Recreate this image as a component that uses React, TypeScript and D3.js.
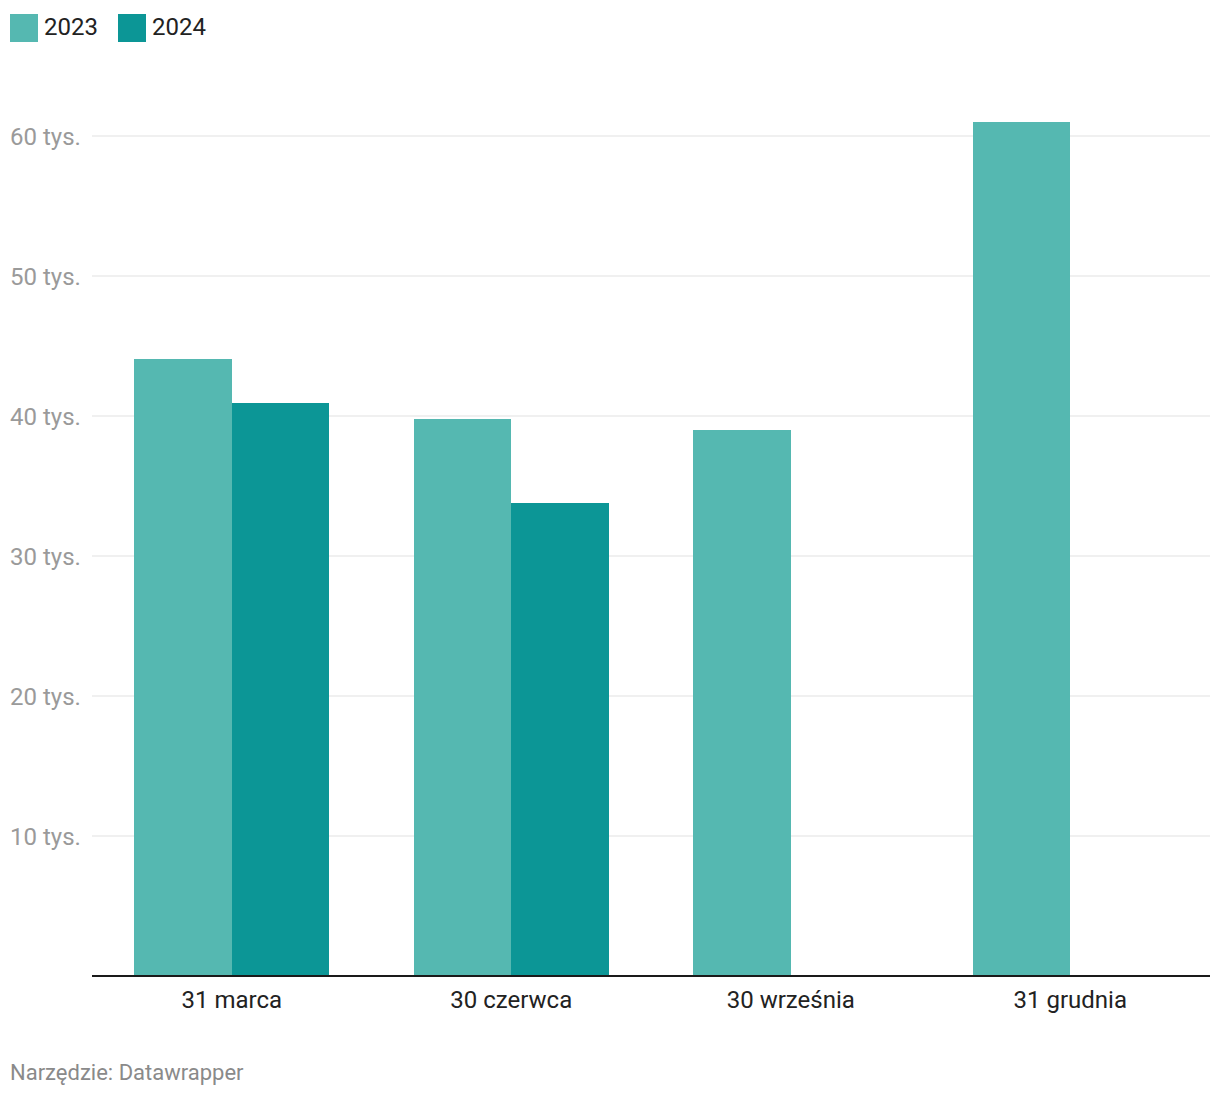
import React from "react";
import * as d3 from "d3";

const categories = ["31 marca", "30 czerwca", "30 września", "31 grudnia"];
const seriesNames = ["2023", "2024"];
const values2023 = [44.1, 39.8, 39.0, 61.0];
const values2024: (number | null)[] = [40.9, 33.8, null, null];
const yTicks = [10, 20, 30, 40, 50, 60];
const colors = ["#55b8b1", "#0c9696"];

const W = 1220;
const H = 1098;
const left = 92;
const right = 1210;
const top = 136;
const bottom = 976;

export default function App() {
  const x0 = d3
    .scaleBand<string>()
    .domain(categories)
    .range([left, right])
    .paddingInner(0.302)
    .paddingOuter(0.151);
  const x1 = d3.scaleBand<string>().domain(seriesNames).range([0, x0.bandwidth()]);
  const y = d3.scaleLinear().domain([0, 60]).range([bottom, top]);
  const series = [values2023, values2024];
  const font = "Roboto, sans-serif";

  return (
    <div style={{ position: "absolute", left: 0, top: 0 }}>
      <svg width={W} height={H} style={{ display: "block", fontFamily: font }}>
        <rect width={W} height={H} fill="#fff" />
        {/* legend */}
        {seriesNames.map((s, i) => (
          <g key={s} transform={`translate(${10 + i * 108},14)`}>
            <rect width={28} height={28} fill={colors[i]} />
            <text x={34} y={21} fontSize={24} fill="#222">
              {s}
            </text>
          </g>
        ))}
        {/* grid */}
        {yTicks.map((t) => (
          <g key={t}>
            <line x1={left} x2={right} y1={y(t)} y2={y(t)} stroke="#e1e1e1" strokeWidth={1} />
            <text x={10} y={y(t) + 9} fontSize={24} fill="#9a9a9a">
              {`${t} tys.`}
            </text>
          </g>
        ))}
        {/* bars */}
        {categories.map((c, ci) => (
          <g key={c} transform={`translate(${x0(c)},0)`}>
            {series.map((vals, si) => {
              const v = vals[ci];
              if (v == null) return null;
              return (
                <rect
                  key={si}
                  x={x1(seriesNames[si])}
                  y={y(v)}
                  width={x1.bandwidth()}
                  height={y(0) - y(v)}
                  fill={colors[si]}
                  shapeRendering="crispEdges"
                />
              );
            })}
          </g>
        ))}
        {/* axis */}
        <line x1={left} x2={right} y1={bottom} y2={bottom} stroke="#1a1a1a" strokeWidth={2} />
        {categories.map((c) => (
          <text
            key={c}
            x={(x0(c) as number) + x0.bandwidth() / 2}
            y={1008}
            fontSize={24}
            fill="#222"
            textAnchor="middle"
          >
            {c}
          </text>
        ))}
        <text x={10} y={1080} fontSize={22} fill="#8a8a8a">
          Narzędzie: Datawrapper
        </text>
      </svg>
    </div>
  );
}
